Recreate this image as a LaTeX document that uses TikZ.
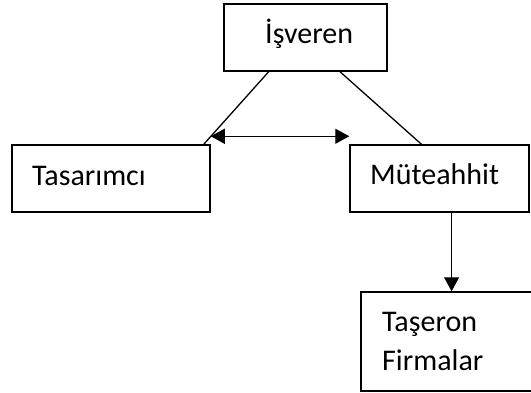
\documentclass[tikz,border=0pt]{standalone}
\usepackage{fontspec}
\setmainfont{Carlito}
\usetikzlibrary{arrows.meta,calc}
\begin{document}
\begin{tikzpicture}[x=1pt,y=-1pt,
  boxnode/.style={draw,line width=1.5pt,inner sep=0pt},
  lbl/.style={anchor=base west,inner sep=0pt,font=\fontsize{30}{40}\selectfont},
  link/.style={line width=1.3pt},
  arr/.style={line width=1.3pt,-{Triangle[length=14pt,width=15pt]}},
  darr/.style={line width=1.3pt,{Triangle[length=14pt,width=15pt]}-{Triangle[length=14pt,width=15pt]}}
]
\useasboundingbox (0,0) rectangle (531,392);
\clip (0,0) rectangle (531,392);
% boxes
\node[boxnode,minimum width=163pt,minimum height=67pt] (isv) at (305.5,37.5) {};
\node[boxnode,minimum width=198pt,minimum height=67pt] (tas) at (111,178.5) {};
\node[boxnode,minimum width=179pt,minimum height=67pt] (mut) at (439.5,178.5) {};
\node[boxnode,minimum width=190pt,minimum height=99pt] (tsr) at (456,341.5) {};
% labels
\node[lbl] (isvt) at (265,43) {İşveren};
\node[lbl] (tast) at (32,185) {Tasarımcı};
\node[lbl] (mutt) at (370,184) {Müteahhit};
\node[lbl] (tsrt1) at (382,331) {Taşeron};
\node[lbl] (tsrt2) at (382,370) {Firmalar};
% connectors
\draw[link] ($(isv.south west)!0.276!(isv.south east)$) -- ($(tas.north west)!0.965!(tas.north east)$);
\draw[link] ($(isv.south west)!0.71!(isv.south east)$) -- ($(mut.north west)!0.40!(mut.north east)$);
\draw[darr] ([yshift=8pt]tas.north east) -- ([yshift=8pt]mut.north west);
\coordinate (down) at ($(mut.south west)!0.567!(mut.south east)$);
\draw[arr] (down) -- (down |- tsr.north);
\end{tikzpicture}
\end{document}
